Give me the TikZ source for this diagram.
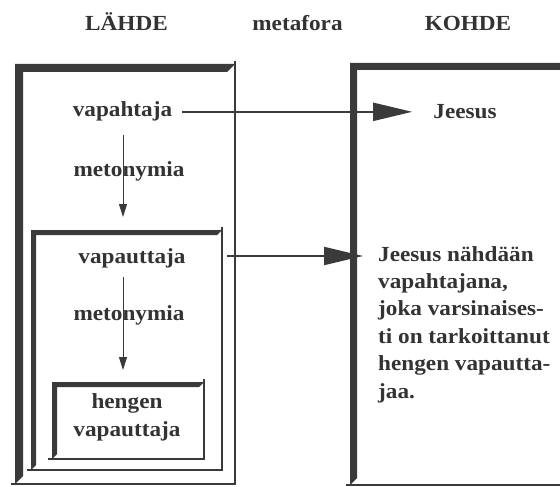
\documentclass[tikz,border=0pt]{standalone}
\usepackage{fontspec}
\setmainfont{Liberation Serif}[FakeStretch=1.08]
\usetikzlibrary{arrows.meta}
\definecolor{ink}{HTML}{3A3A3A}
\definecolor{txt}{HTML}{333333}
\newcommand{\bevelbox}[5]{%
  \fill[ink] (#1,#4) -- (#1,#2) -- (#3,#2) -- ({#3-#5},{#2+#5}) -- ({#1+#5},{#2+#5}) -- ({#1+#5},{#4-#5}) -- cycle;
  \draw[ink, line width=2.5pt] (#3,{#2-3}) -- (#3,#4) -- ({#1-4},#4);
}
\begin{document}
\begin{tikzpicture}[x=1pt,y=-1pt,
  lbl/.style={inner sep=0pt, text=txt, font=\bfseries\fontsize{21.5}{27.4}\selectfont},
  bigarrow/.style={ink, line width=2pt, -{Triangle[length=39pt,width=18pt]}},
  smallarrow/.style={ink, line width=1pt, -{Triangle[length=13pt,width=8pt]}}]
\useasboundingbox[fill=white] (0,0) rectangle (560,487);

% frames
\bevelbox{15}{64}{235}{484}{8}
\bevelbox{31}{230}{222}{470}{5}
\bevelbox{52}{382}{204}{459}{5}
\bevelbox{350}{63}{570}{485}{7}

% headers
\node[lbl, anchor=base] (lahde) at (126.5,31) {LÄHDE};
\node[lbl, anchor=base] (metafora) at (297.5,31) {metafora};
\node[lbl, anchor=base] (kohde) at (468,31) {KOHDE};

% source texts
\node[lbl, anchor=base] (vapahtaja) at (122.5,117) {vapahtaja};
\node[lbl, anchor=base] (meto1) at (129,176) {metonymia};
\node[lbl, anchor=base] (vapauttaja) at (132,263) {vapauttaja};
\node[lbl, anchor=base] (meto2) at (129,320) {metonymia};
\node[lbl, anchor=base, align=center] (hengen) at (127,436) {hengen\\vapauttaja};

% target texts
\node[lbl, anchor=base] (jeesus) at (465,118) {Jeesus};
\node[lbl, anchor=base west, align=left] (selitys) at (378,398) {Jeesus nähdään\\vapahtajana,\\joka varsinaises-\\ti on tarkoittanut\\hengen vapautta-\\jaa.};

% connectors
\coordinate (midR) at (222,256);
\coordinate (midT) at (123,230);
\coordinate (a2s) at (123,277);
\coordinate (innerT) at (123,382);
\draw[bigarrow, shorten <=10pt, shorten >=21pt] (vapahtaja.east) -- (vapahtaja.east -| jeesus.west);
\draw[bigarrow, shorten <=5pt, shorten >=15pt] (midR) -- (midR -| selitys.west);
\draw[smallarrow, shorten <=13pt, shorten >=13pt] (vapahtaja.south -| midT) -- (midT);
\draw[smallarrow, shorten >=12pt] (a2s) -- (innerT);
\end{tikzpicture}
\end{document}
